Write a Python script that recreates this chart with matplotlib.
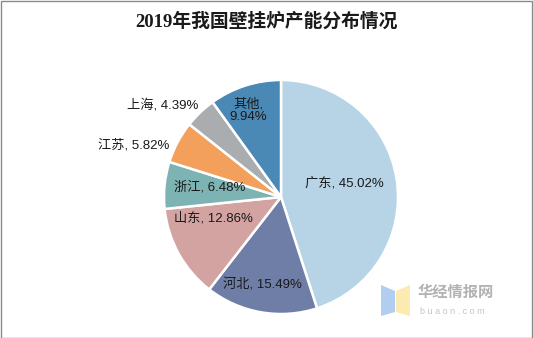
import matplotlib.pyplot as plt
from matplotlib.patches import Rectangle, Polygon

plt.rcParams['font.family'] = ['Liberation Sans', 'Noto Sans CJK SC', 'DejaVu Sans']

# data
regions = ['广东', '河北', '山东', '浙江', '江苏', '上海', '其他']
shares = [45.02, 15.49, 12.86, 6.48, 5.82, 4.39, 9.94]
colors = ['#b7d3e6', '#6f7ea6', '#d3a3a2', '#7db3b2', '#f2a05b', '#a9adaf', '#4a88b5']

# label positions (pie radius = 1)
label_pos = [(0.54, 0.12), (-0.16, -0.75), (-0.58, -0.18), (-0.61, 0.08),
             (-1.26, 0.44), (-1.01, 0.79), (-0.28, 0.74)]

W, H = 533, 338
fig = plt.figure(figsize=(W / 100, H / 100), dpi=100)
cx, cy, r = 281, 197, 117
ax = fig.add_axes([(cx - r) / W, (H - cy - r) / H, 2 * r / W, 2 * r / H])

ax.pie(shares, colors=colors, startangle=90, counterclock=False, radius=1,
       wedgeprops=dict(edgecolor='white', linewidth=1.8))
ax.set_xlim(-1, 1)
ax.set_ylim(-1, 1)
ax.set_aspect('equal')
ax.axis('off')

for name, val, (x, y) in zip(regions, shares, label_pos):
    if name == '其他':
        txt = f'{name},\n{val:.2f}%'
    else:
        txt = f'{name}, {val:.2f}%'
    ax.text(x, y, txt, ha='center', va='center', fontsize=9.5, color='#1a1a1a',
            linespacing=1.1, clip_on=False)

fig.text(0.5, 1 - 22 / H, '2019年我国壁挂炉产能分布情况', ha='center', va='center',
         fontsize=13.5, fontweight='bold', color='#1a1a1a',
         family=['Liberation Serif', 'Noto Sans CJK SC'])

# watermark
fig.patches.append(Polygon([[381 / W, 1 - 285 / H], [395 / W, 1 - 291 / H],
                            [395 / W, 1 - 312 / H], [381 / W, 1 - 316 / H]],
                           closed=True, transform=fig.transFigure,
                           facecolor='#a9c8ef', edgecolor='none', alpha=0.9))
fig.patches.append(Polygon([[396 / W, 1 - 291 / H], [410 / W, 1 - 285 / H],
                            [410 / W, 1 - 316 / H], [396 / W, 1 - 312 / H]],
                           closed=True, transform=fig.transFigure,
                           facecolor='#fbe9a8', edgecolor='none', alpha=0.9))
fig.text(418 / W, 1 - 293 / H, '华经情报网', fontsize=11, color='#b3b3b3',
         ha='left', va='center', fontweight='bold')
fig.text(420 / W, 1 - 311 / H, 'b u a o n . c o m', fontsize=6.5, color='#c4c4c4',
         ha='left', va='center')

# border
fig.patches.append(Rectangle((0.5 / W, 0.5 / H), 1 - 1.5 / W, 1 - 1.5 / H,
                             transform=fig.transFigure, fill=False,
                             edgecolor='#8a8a8a', linewidth=1))

fig.savefig('out.png', dpi=100)
